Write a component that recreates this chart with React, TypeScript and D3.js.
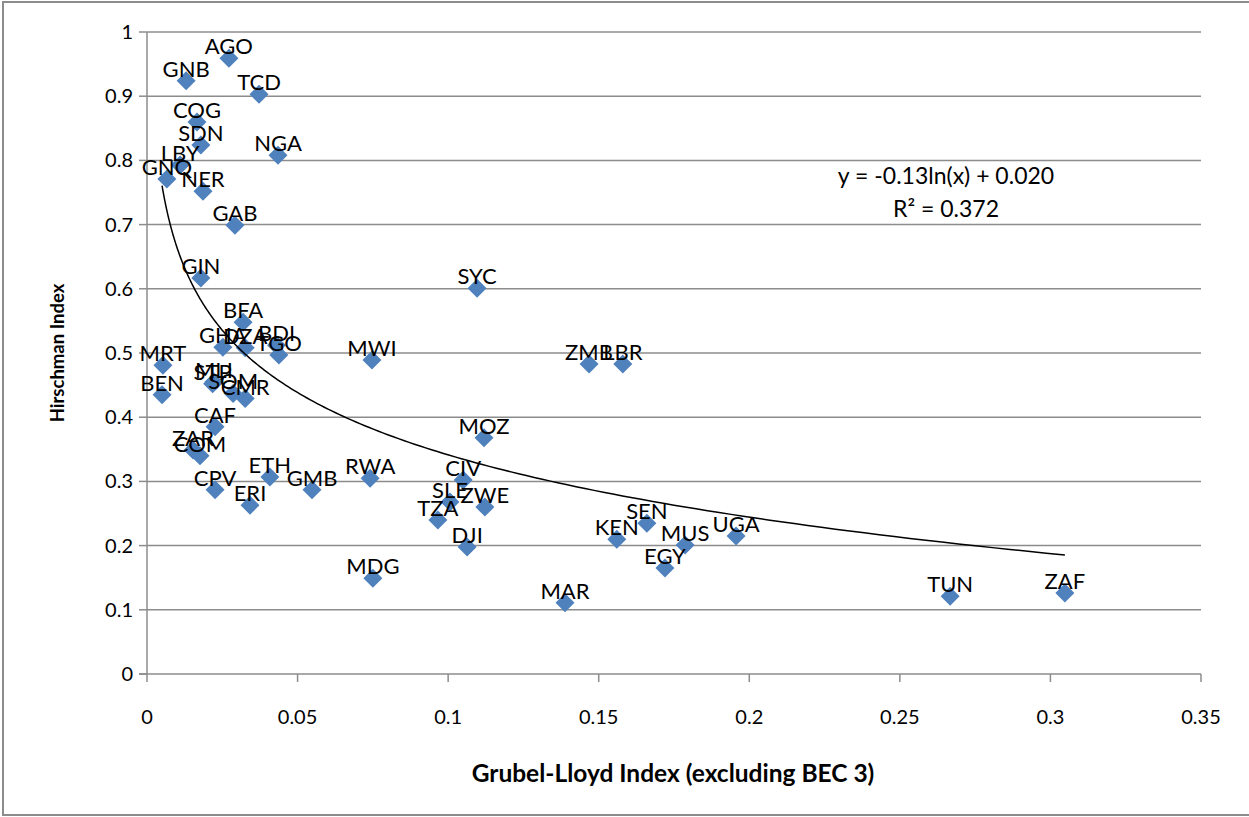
import React, { useEffect, useRef } from "react";
import * as d3 from "d3";

const countries = ["AGO", "GNB", "TCD", "COG", "SDN", "NGA", "LBY", "GNQ", "NER", "GAB", "GIN", "BFA", "GHA", "DZA", "BDI", "TGO", "MRT", "BEN", "MLI", "STP", "SOM", "CMR", "CAF", "ZAR", "COM", "CPV", "ERI", "ETH", "GMB", "RWA", "MWI", "MDG", "CIV", "SLE", "ZWE", "TZA", "DJI", "SYC", "MOZ", "ZMB", "LBR", "MAR", "KEN", "SEN", "MUS", "EGY", "UGA", "TUN", "ZAF"];
const grubelLloyd = [0.0272, 0.013, 0.0372, 0.0166, 0.0179, 0.0435, 0.011, 0.0066, 0.0186, 0.0292, 0.0179, 0.0319, 0.0252, 0.0326, 0.043, 0.0438, 0.0053, 0.005, 0.0222, 0.0218, 0.0286, 0.0326, 0.0226, 0.0153, 0.0176, 0.0226, 0.0342, 0.0408, 0.0548, 0.0741, 0.0747, 0.075, 0.105, 0.1006, 0.1122, 0.0966, 0.1063, 0.1096, 0.1119, 0.1468, 0.158, 0.1388, 0.156, 0.166, 0.1787, 0.172, 0.1956, 0.2667, 0.3048];
const hirschman = [0.959, 0.924, 0.903, 0.86, 0.824, 0.808, 0.793, 0.771, 0.752, 0.699, 0.617, 0.548, 0.509, 0.508, 0.512, 0.497, 0.481, 0.435, 0.455, 0.452, 0.437, 0.429, 0.385, 0.349, 0.34, 0.287, 0.263, 0.307, 0.287, 0.305, 0.489, 0.149, 0.302, 0.268, 0.26, 0.24, 0.198, 0.601, 0.368, 0.483, 0.483, 0.111, 0.21, 0.235, 0.201, 0.165, 0.215, 0.121, 0.126];

const xTicks = [0, 0.05, 0.1, 0.15, 0.2, 0.25, 0.3, 0.35];
const xTickLabels = ["0", "0.05", "0.1", "0.15", "0.2", "0.25", "0.3", "0.35"];
const yTicks = [0, 0.1, 0.2, 0.3, 0.4, 0.5, 0.6, 0.7, 0.8, 0.9, 1];
const yTickLabels = ["0", "0.1", "0.2", "0.3", "0.4", "0.5", "0.6", "0.7", "0.8", "0.9", "1"];

const trendSlope = -0.14;
const trendIntercept = 0.019;
const trendLabel = ["y = -0.13ln(x) + 0.020", "R² = 0.372"];

const W = 1249;
const H = 817;
const grid = "#8c8c8c";
const font = "Lato, 'Open Sans', sans-serif";

const App = () => {
  const ref = useRef<SVGSVGElement>(null);

  useEffect(() => {
    const svg = d3.select(ref.current);
    svg.selectAll("*").remove();

    const x = d3.scaleLinear().domain([0, 0.35]).range([147, 1201]);
    const y = d3.scaleLinear().domain([0, 1]).range([674, 32]);

    // outer chart border
    svg.append("rect")
      .attr("x", 3).attr("y", 2).attr("width", W + 10).attr("height", 813)
      .attr("fill", "white").attr("stroke", grid).attr("stroke-width", 2);

    // gridlines
    svg.append("g").selectAll("line").data(yTicks.slice(1)).join("line")
      .attr("x1", x(0)).attr("x2", x(0.35))
      .attr("y1", (d) => y(d)).attr("y2", (d) => y(d))
      .attr("stroke", grid).attr("stroke-width", 1.5);

    // axes
    svg.append("line").attr("x1", x(0)).attr("x2", x(0)).attr("y1", y(0)).attr("y2", y(1))
      .attr("stroke", grid).attr("stroke-width", 1.5);
    svg.append("line").attr("x1", x(0) - 8).attr("x2", x(0.35)).attr("y1", y(0)).attr("y2", y(0))
      .attr("stroke", grid).attr("stroke-width", 1.5);

    svg.append("g").selectAll("line").data(yTicks).join("line")
      .attr("x1", x(0) - 8).attr("x2", x(0)).attr("y1", (d) => y(d)).attr("y2", (d) => y(d))
      .attr("stroke", grid).attr("stroke-width", 1.5);
    svg.append("g").selectAll("line").data(xTicks).join("line")
      .attr("x1", (d) => x(d)).attr("x2", (d) => x(d)).attr("y1", y(0)).attr("y2", y(0) + 8)
      .attr("stroke", grid).attr("stroke-width", 1.5);

    svg.append("g").selectAll("text").data(yTicks).join("text")
      .attr("x", x(0) - 14).attr("y", (d) => y(d) + 7)
      .attr("text-anchor", "end").attr("font-family", font).attr("font-size", 20)
      .text((d, i) => yTickLabels[i]);
    svg.append("g").selectAll("text").data(xTicks).join("text")
      .attr("x", (d) => x(d)).attr("y", y(0) + 50)
      .attr("text-anchor", "middle").attr("font-family", font).attr("font-size", 20)
      .text((d, i) => xTickLabels[i]);

    // axis titles
    svg.append("text").attr("x", 673).attr("y", 782)
      .attr("text-anchor", "middle").attr("font-family", font).attr("font-size", 24.5).attr("font-weight", "bold")
      .text("Grubel-Lloyd Index (excluding BEC 3)");
    svg.append("text").attr("transform", "translate(64,353) rotate(-90)")
      .attr("text-anchor", "middle").attr("font-family", font).attr("font-size", 18.5).attr("font-weight", "bold")
      .text("Hirschman Index");

    // markers
    const pts = countries.map((c, i) => ({ c, gx: grubelLloyd[i], hy: hirschman[i] }));
    const r = 9.5;
    svg.append("g").selectAll("path").data(pts).join("path")
      .attr("d", (d) => {
        const cx = x(d.gx);
        const cy = y(d.hy);
        return `M${cx},${cy - r}L${cx + r},${cy}L${cx},${cy + r}L${cx - r},${cy}Z`;
      })
      .attr("fill", "#4f81bd");

    // logarithmic trendline
    const [xmin, xmax] = d3.extent(grubelLloyd) as [number, number];
    const trendX = d3.range(0, 201).map((i) => xmin * Math.pow(xmax / xmin, i / 200));
    const trend = d3.line<number>()
      .x((d) => x(d))
      .y((d) => y(trendSlope * Math.log(d) + trendIntercept));
    svg.append("path").attr("d", trend(trendX))
      .attr("fill", "none").attr("stroke", "black").attr("stroke-width", 1.5);

    // data labels
    svg.append("g").selectAll("text").data(pts).join("text")
      .attr("x", (d) => x(d.gx)).attr("y", (d) => y(d.hy) - 4)
      .attr("text-anchor", "middle").attr("font-family", font).attr("font-size", 22)
      .text((d) => d.c);

    svg.append("g").selectAll("text").data(trendLabel).join("text")
      .attr("x", 946).attr("y", (d, i) => 184 + i * 33)
      .attr("text-anchor", "middle").attr("font-family", font).attr("font-size", 23)
      .text((d) => d);
  }, []);

  return (
    <svg ref={ref} width={W} height={H}
      style={{ position: "absolute", left: 0, top: 0, display: "block", background: "white" }} />
  );
};

export default App;
